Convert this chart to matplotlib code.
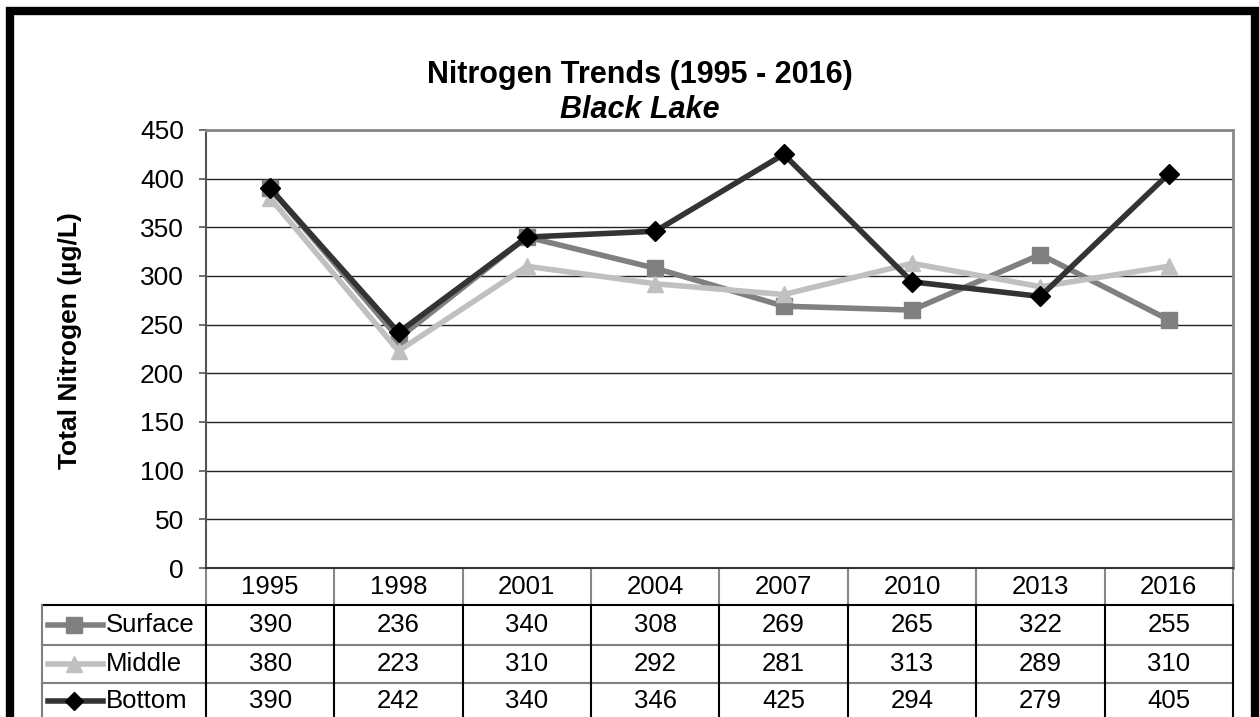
import numpy as np
import matplotlib.pyplot as plt
from matplotlib.lines import Line2D

plt.rcParams['font.family'] = ['Liberation Sans', 'DejaVu Sans']

years = ['1995', '1998', '2001', '2004', '2007', '2010', '2013', '2016']
surface = [390, 236, 340, 308, 269, 265, 322, 255]
middle = [380, 223, 310, 292, 281, 313, 289, 310]
bottom = [390, 242, 340, 346, 425, 294, 279, 405]

series_names = ['Surface', 'Middle', 'Bottom']
series_vals = [surface, middle, bottom]
line_colors = ['#808080', '#c0c0c0', '#333333']
marker_colors = ['#808080', '#c0c0c0', '#000000']
markers = ['s', '^', 'D']
marker_sizes = [12, 12, 10]

W, H = 1259, 717
fig = plt.figure(figsize=(W / 100, H / 100), dpi=100)
fs = 18.5

# pixel layout of the plot area
L, R, T, B = 206, 1233, 130, 568
ax = fig.add_axes([L / W, 1 - B / H, (R - L) / W, (B - T) / H])

x = np.arange(len(years))
for vals, lc, mc, m, ms in zip(series_vals, line_colors, marker_colors, markers, marker_sizes):
    ax.plot(x, vals, color=lc, lw=4, marker=m, ms=ms, mfc=mc, mec=mc, zorder=3)

ax.set_xlim(-0.5, len(years) - 0.5)
ax.set_ylim(0, 450)
ax.set_yticks(np.arange(0, 451, 50))
ax.set_xticks([])
ax.tick_params(axis='y', labelsize=19, length=5, width=1.2, color='#555555', pad=11)
ax.grid(axis='y', color='#222222', lw=1)
ax.set_axisbelow(True)
for s in ['top', 'right']:
    ax.spines[s].set_color('#888888')
    ax.spines[s].set_linewidth(2)
ax.spines['left'].set_color('#555555')
ax.spines['left'].set_linewidth(1.5)
ax.spines['bottom'].set_color('#333333')
ax.spines['bottom'].set_linewidth(1.5)
ax.set_ylabel('Total Nitrogen (µg/L)', fontsize=19, fontweight='bold')
ax.yaxis.set_label_coords((82 - L) / (R - L), (B - 341) / (B - T))

# overlay axes in pixel coordinates for title, table and border
ov = fig.add_axes([0, 0, 1, 1], zorder=-1)
ov.set_xlim(0, W)
ov.set_ylim(H, 0)
ov.axis('off')

ov.text(640, 75, 'Nitrogen Trends (1995 - 2016)', fontsize=22, fontweight='bold',
        ha='center', va='center')
ov.text(640, 110, 'Black Lake', fontsize=22, fontweight='bold', style='italic',
        ha='center', va='center')

# data table
col_w = (R - L) / len(years)
rows_y = [568, 605, 645, 683, 722]
label_x0 = 42
ov.plot([label_x0, R], [605, 605], color='black', lw=1.5)
for yy in rows_y[2:4]:
    ov.plot([label_x0, R], [yy, yy], color='#808080', lw=1.5)
# vertical lines
for i in range(len(years) + 1):
    xx = L + i * col_w
    ov.plot([xx, xx], [568, 605], color='#888888', lw=1.5)
    ov.plot([xx, xx], [605, H], color='black', lw=1.5)
ov.plot([label_x0, label_x0], [605, H], color='#808080', lw=1.5)

for i, yr in enumerate(years):
    ov.text(L + (i + 0.5) * col_w, 587, yr, fontsize=fs, ha='center', va='center')
for r, (name, vals) in enumerate(zip(series_names, series_vals)):
    cy = (rows_y[r + 1] + rows_y[r + 2]) / 2 if r < 2 else 701
    ov.add_line(Line2D([48, 103], [cy, cy], color=line_colors[r], lw=4))
    ov.plot([74], [cy], marker=markers[r], ms=marker_sizes[r] - 1,
            mfc=marker_colors[r], mec=marker_colors[r], color=line_colors[r])
    ov.text(106, cy, name, fontsize=fs, ha='left', va='center')
    for i, v in enumerate(vals):
        ov.text(L + (i + 0.5) * col_w, cy, str(v), fontsize=fs, ha='center', va='center')

# thick outer border
ov.plot([10.5, 10.5, 1255, 1255], [H + 5, 10.5, 10.5, H + 5], color='black', lw=6,
        solid_joinstyle='miter')

fig.savefig('out.png', dpi=100)
